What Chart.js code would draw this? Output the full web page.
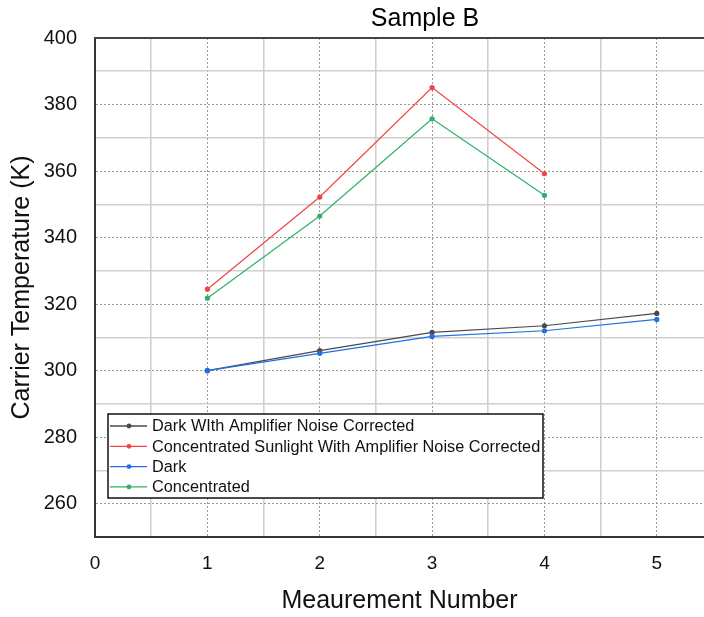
<!DOCTYPE html>
<html><head><meta charset="utf-8">
<script src="https://cdn.jsdelivr.net/npm/chart.js@4/dist/chart.umd.min.js"></script>
<style>html,body{margin:0;padding:0;background:#fff;overflow:hidden}#wrap{width:704px;height:617px;position:relative}</style>
</head><body><div id="wrap"><canvas id="c" width="704" height="617"></canvas></div>
<script>
const chartTitle = 'Sample B';
const xTitle = 'Meaurement Number';
const yTitle = 'Carrier Temperature (K)';
const measurements = [1, 2, 3, 4, 5];
const darkCorrected = [300, 306, 311.5, 313.5, 317.2];
const sunCorrected = [324.5, 352.2, 385.1, 359.2];
const dark = [300, 305.2, 310.3, 312, 315.4];
const concentrated = [321.8, 346.5, 375.7, 352.7];
const seriesLabels = ['Dark WIth Amplifier Noise Corrected', 'Concentrated Sunlight With Amplifier Noise Corrected', 'Dark', 'Concentrated'];
const seriesColors = ['#4a4a4a', '#f04545', '#1f6fe5', '#30b06a'];
const yTickValues = [260, 280, 300, 320, 340, 360, 380, 400];
const xTickValues = [0, 1, 2, 3, 4, 5];

const FONT = '"Liberation Sans", Arial, sans-serif';
const toPts = (vals) => vals.map((v, i) => ({x: measurements[i], y: v}));
const allSeries = [darkCorrected, sunCorrected, dark, concentrated];
const drawOrder = [1, 2, 0, 3];

const datasets = allSeries.map((vals, i) => ({
  label: seriesLabels[i],
  data: toPts(vals),
  borderColor: seriesColors[i],
  backgroundColor: seriesColors[i],
  pointBackgroundColor: seriesColors[i],
  pointBorderColor: seriesColors[i],
  borderWidth: 1.2,
  pointRadius: 2.6,
  pointBorderWidth: 0,
  tension: 0,
  order: drawOrder[i]
}));

const isMajorY = (v) => yTickValues.includes(v);
const isMajorX = (v) => xTickValues.includes(v);

const framePlugin = {
  id: 'frame',
  afterDraw(chart) {
    const {ctx, chartArea: ca} = chart;
    ctx.save();
    ctx.strokeStyle = '#444';
    ctx.lineWidth = 2;
    ctx.beginPath();
    ctx.moveTo(ca.left - 1, ca.top);
    ctx.lineTo(ca.right, ca.top);
    ctx.stroke();
    ctx.fillStyle = '#000';
    ctx.font = '25px ' + FONT;
    ctx.textAlign = 'center';
    ctx.textBaseline = 'middle';
    ctx.fillText(chartTitle, ca.left + 330, 19);
    const lx = ca.left + 13, ly = ca.top + 376, lw = 435, lh = 84;
    ctx.fillStyle = '#fff';
    ctx.fillRect(lx, ly, lw, lh);
    ctx.strokeStyle = '#111';
    ctx.lineWidth = 1.5;
    ctx.strokeRect(lx, ly, lw, lh);
    ctx.font = '16.3px ' + FONT;
    ctx.textAlign = 'left';
    chart.data.datasets.forEach((ds, i) => {
      const y = ly + 12 + i * 20.3;
      ctx.strokeStyle = ds.borderColor;
      ctx.lineWidth = 1.3;
      ctx.beginPath();
      ctx.moveTo(lx + 2, y);
      ctx.lineTo(lx + 39, y);
      ctx.stroke();
      ctx.fillStyle = ds.borderColor;
      ctx.beginPath();
      ctx.arc(lx + 21, y, 2.4, 0, Math.PI * 2);
      ctx.fill();
      ctx.fillStyle = '#111';
      ctx.fillText(ds.label, lx + 44, y + 1);
    });
    ctx.restore();
  }
};

new Chart(document.getElementById('c'), {
  type: 'line',
  data: {datasets},
  plugins: [framePlugin],
  options: {
    responsive: false,
    animation: false,
    layout: {autoPadding: false, padding: {top: 38, right: 0, bottom: 0, left: 0}},
    plugins: {legend: {display: false}, title: {display: false}, tooltip: {enabled: false}},
    scales: {
      x: {
        type: 'linear',
        min: 0, max: 5.42,
        bounds: 'data',
        afterFit: (s) => { s.height = 80; s.paddingRight = 0; s.paddingLeft = 0; },
        ticks: {
          stepSize: 0.5,
          includeBounds: false,
          autoSkip: false,
          maxRotation: 0,
          padding: 15,
          color: '#111',
          font: {family: FONT, size: 19},
          callback: (v) => isMajorX(v) ? String(v) : ''
        },
        grid: {
          drawTicks: false,
          color: (c) => c.tick && isMajorX(c.tick.value) ? '#999' : '#d0d0d0',
          lineWidth: (c) => c.tick && isMajorX(c.tick.value) ? 1 : 1.6
        },
        border: {
          display: true, color: '#333', width: 2,
          dash: (c) => c.tick && isMajorX(c.tick.value) ? [2, 2] : []
        },
        title: {display: true, text: xTitle, color: '#111', font: {family: FONT, size: 25}, padding: {top: 0, bottom: 1}}
      },
      y: {
        type: 'linear',
        min: 250, max: 400,
        bounds: 'data',
        afterFit: (s) => { s.width = 95; },
        ticks: {
          stepSize: 10,
          autoSkip: false,
          padding: 18,
          color: '#111',
          font: {family: FONT, size: 20},
          callback: (v) => isMajorY(v) ? String(v) : ''
        },
        grid: {
          drawTicks: false,
          color: (c) => c.tick && isMajorY(c.tick.value) ? '#999' : '#d0d0d0',
          lineWidth: (c) => c.tick && isMajorY(c.tick.value) ? 1 : 1.6
        },
        border: {
          display: true, color: '#333', width: 2,
          dash: (c) => c.tick && isMajorY(c.tick.value) ? [2, 2] : []
        },
        title: {display: true, text: yTitle, color: '#111', font: {family: FONT, size: 25}, padding: {top: 7, bottom: 0}}
      }
    }
  }
});
</script>
</body></html>
